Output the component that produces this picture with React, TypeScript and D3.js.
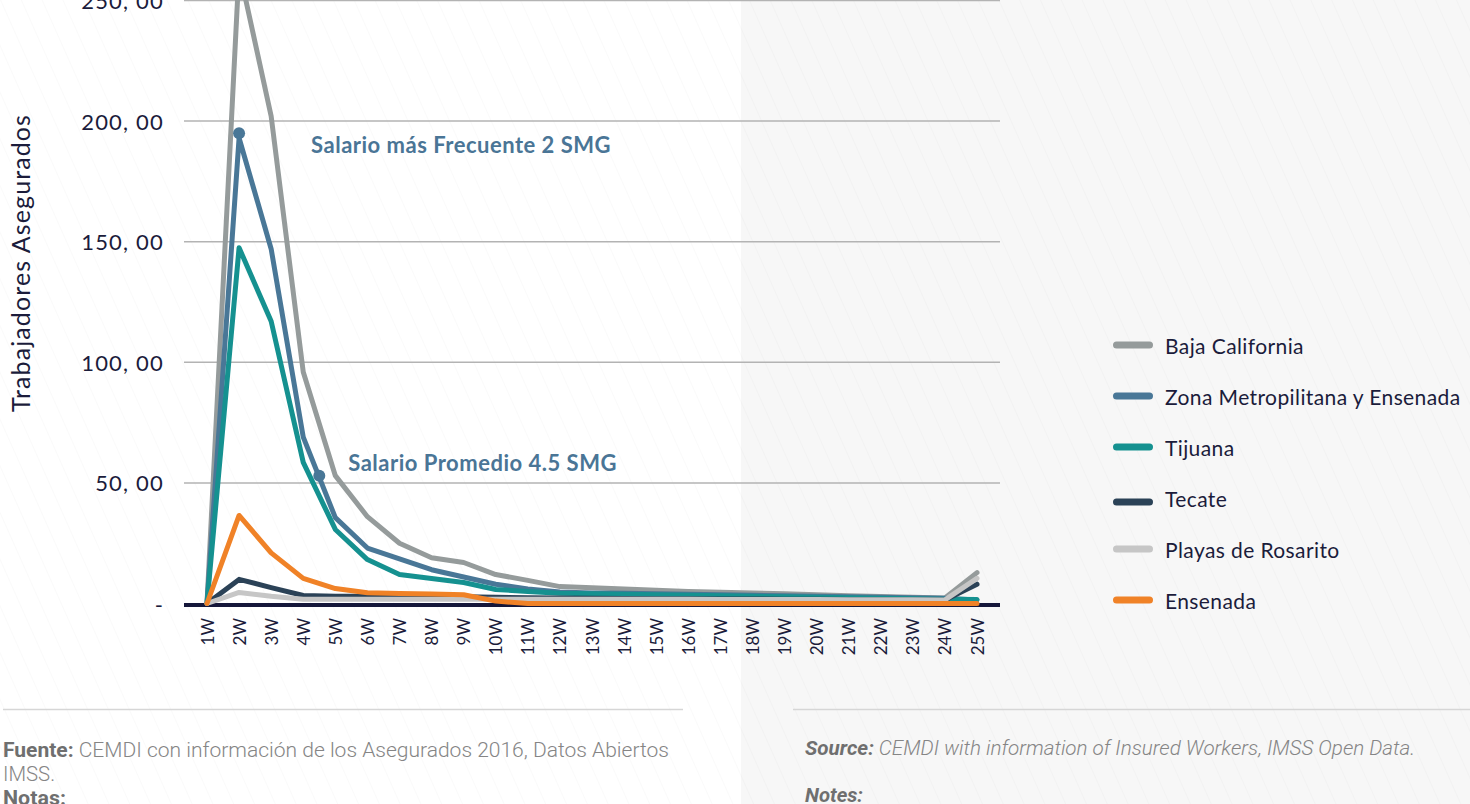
import { useEffect, useRef } from 'react';
import * as d3 from 'd3';

// Semanas de salario (W = veces salario mínimo)
const WEEKS = [
  '1W', '2W', '3W', '4W', '5W', '6W', '7W', '8W', '9W', '10W', '11W', '12W', '13W',
  '14W', '15W', '16W', '17W', '18W', '19W', '20W', '21W', '22W', '23W', '24W', '25W',
];

const BAJA_CALIFORNIA = [0, 263, 202, 96, 53, 36, 25, 19, 17, 12, 9.6, 7, 6.5, 6, 5.5, 5, 4.7, 4.4, 4, 3.6, 3.2, 2.9, 2.6, 2.3, 12.8];
const ZONA_METRO = [0, 193, 147, 69, 35.6, 23, 18.5, 14, 11, 8, 6, 4.8, 4.4, 4.2, 4, 3.8, 3.6, 3.4, 3.2, 3, 2.8, 2.6, 2.4, 2.2, 1.5];
const TIJUANA = [0, 147.5, 117, 58.5, 30.7, 18.2, 12, 10.4, 8.7, 5.8, 5, 4.2, 4, 3.8, 3.6, 3.4, 3.2, 3, 2.8, 2.6, 2.4, 2.2, 2, 1.8, 1.7];
const TECATE = [0, 10, 6.6, 3.3, 3, 3, 3, 3, 2.8, 2.6, 2.4, 2.3, 2.2, 2.1, 2, 2, 1.9, 1.9, 1.8, 1.8, 1.7, 1.7, 1.6, 1.5, 8];
const PLAYAS = [0, 4.6, 3, 1.8, 1.8, 1.8, 1.8, 1.8, 1.8, 1.8, 1.8, 1.8, 1.8, 1.8, 1.8, 1.8, 1.7, 1.7, 1.7, 1.7, 1.6, 1.6, 1.6, 1.5, 10.4];
const ENSENADA = [0, 36.5, 21, 10.4, 6.2, 4.5, 4.1, 3.9, 3.6, 1, 0, 0, 0, 0, 0, 0, 0, 0, 0, 0, 0, 0, 0, 0, 0];

const SERIES_NAMES = [
  'Baja California',
  'Zona Metropilitana y Ensenada',
  'Tijuana',
  'Tecate',
  'Playas de Rosarito',
  'Ensenada',
];
const SERIES_VALUES = [BAJA_CALIFORNIA, ZONA_METRO, TIJUANA, TECATE, PLAYAS, ENSENADA];
const SERIES_COLORS = ['#959b9b', '#497797', '#159190', '#2b4257', '#c6c6c6', '#f08227'];

const Y_TICKS = [0, 50, 100, 150, 200, 250];
const Y_TICK_LABELS = ['-', '50, 00', '100, 00', '150, 00', '200, 00', '250, 00'];

// marcadores: posición en semanas (x) y trabajadores (y)
const ANNOTATION_X = [2, 4.5];
const ANNOTATION_Y = [195, 53];
const ANNOTATION_TEXT = ['Salario más Frecuente 2 SMG', 'Salario Promedio 4.5 SMG'];
const ANNOTATION_OFFSET = [
  [72, 11],
  [29, -13],
];

const WIDTH = 1470;
const HEIGHT = 804;
const INK = '#1b1c3b';
const FONT = 'Lato, "Noto Sans", sans-serif';

export default function App() {
  const svgRef = useRef<SVGSVGElement>(null);

  useEffect(() => {
    if (!svgRef.current) return;
    const svg = d3.select(svgRef.current);
    svg.selectAll('*').remove();

    // fondo con rayado diagonal muy tenue
    const defs = svg.append('defs');
    const pat = defs
      .append('pattern')
      .attr('id', 'hatch')
      .attr('patternUnits', 'userSpaceOnUse')
      .attr('width', 19)
      .attr('height', 19)
      .attr('patternTransform', 'rotate(-24)');
    pat.append('line').attr('x1', 0).attr('y1', 0).attr('x2', 0).attr('y2', 19)
      .attr('stroke', 'rgba(0,0,0,0.028)').attr('stroke-width', 1.2);

    svg.append('rect').attr('width', WIDTH).attr('height', HEIGHT).attr('fill', '#ffffff');
    svg.append('rect').attr('x', 741).attr('width', WIDTH - 741).attr('height', HEIGHT).attr('fill', '#f7f7f7');
    svg.append('rect').attr('width', WIDTH).attr('height', HEIGHT).attr('fill', 'url(#hatch)');

    const x = d3.scaleLinear().domain([1, WEEKS.length]).range([207, 977]);
    const y = d3.scaleLinear().domain([0, 250]).range([603.5, 0.5]);
    const gridX0 = 184;
    const gridX1 = 1000;

    // líneas de cuadrícula
    svg.append('g')
      .selectAll('line')
      .data(Y_TICKS.filter((t) => t > 0))
      .join('line')
      .attr('x1', gridX0)
      .attr('x2', gridX1)
      .attr('y1', (d) => y(d))
      .attr('y2', (d) => y(d))
      .attr('stroke', '#b3b3b3')
      .attr('stroke-width', 1.5);

    // etiquetas eje Y
    svg.append('g')
      .selectAll('text')
      .data(Y_TICKS)
      .join('text')
      .attr('x', 164)
      .attr('y', (d) => (d === 0 ? y(d) + 1 : y(d)))
      .attr('text-anchor', 'end')
      .attr('dominant-baseline', 'central')
      .attr('fill', INK)
      .style('font-family', FONT)
      .style('font-size', '22px')
      .style('letter-spacing', '1.2px')
      .text((_, i) => Y_TICK_LABELS[i]);

    svg.append('text')
      .attr('transform', `translate(30,263) rotate(-90)`)
      .attr('text-anchor', 'middle')
      .attr('fill', INK)
      .style('font-family', FONT)
      .style('font-size', '25px')
      .style('letter-spacing', '1.1px')
      .text('Trabajadores Asegurados');

    // eje cero
    svg.append('line')
      .attr('x1', gridX0)
      .attr('x2', gridX1)
      .attr('y1', 605)
      .attr('y2', 605)
      .attr('stroke', '#15173a')
      .attr('stroke-width', 4);

    // etiquetas eje X
    svg.append('g')
      .selectAll('text')
      .data(WEEKS)
      .join('text')
      .attr('transform', (_, i) => `translate(${x(i + 1)},618) rotate(-90)`)
      .attr('text-anchor', 'end')
      .attr('dominant-baseline', 'central')
      .attr('fill', INK)
      .style('font-family', FONT)
      .style('font-size', '17px')
      .text((d) => d);

    // series
    const line = d3
      .line<number>()
      .x((_, i) => x(i + 1))
      .y((d) => y(d));

    svg.append('g')
      .selectAll('path')
      .data(SERIES_VALUES)
      .join('path')
      .attr('d', (d) => line(d))
      .attr('fill', 'none')
      .attr('stroke', (_, i) => SERIES_COLORS[i])
      .attr('stroke-width', 5)
      .attr('stroke-linejoin', 'round')
      .attr('stroke-linecap', 'round');

    // anotaciones
    ANNOTATION_X.forEach((ax, i) => {
      const px = x(ax);
      const py = y(ANNOTATION_Y[i]);
      svg.append('circle').attr('cx', px).attr('cy', py).attr('r', 6).attr('fill', '#497797');
      svg.append('text')
        .attr('x', px + ANNOTATION_OFFSET[i][0])
        .attr('y', py + ANNOTATION_OFFSET[i][1])
        .attr('dominant-baseline', 'central')
        .attr('fill', '#4a7596')
        .style('font-family', FONT)
        .style('font-weight', 700)
        .style('font-size', '22px')
        .style('letter-spacing', '0.5px')
        .text(ANNOTATION_TEXT[i]);
    });

    // leyenda
    const legend = svg.append('g').attr('transform', 'translate(1113,345)');
    const rows = legend
      .selectAll('g')
      .data(SERIES_NAMES)
      .join('g')
      .attr('transform', (_, i) => `translate(0,${i * 51})`);
    rows.append('line')
      .attr('x1', 3.5)
      .attr('x2', 36.5)
      .attr('y1', (_, i) => (i === 3 ? 4 : 0))
      .attr('y2', (_, i) => (i === 3 ? 4 : 0))
      .attr('stroke', (_, i) => SERIES_COLORS[i])
      .attr('stroke-width', 7)
      .attr('stroke-linecap', 'round');
    rows.append('text')
      .attr('x', 52)
      .attr('y', 0)
      .attr('dominant-baseline', 'central')
      .attr('fill', INK)
      .style('font-family', FONT)
      .style('font-size', '21px')
      .style('letter-spacing', '0.4px')
      .text((d) => d);

    // pie: separadores y fuentes
    svg.append('line').attr('x1', 3).attr('x2', 683).attr('y1', 709.5).attr('y2', 709.5)
      .attr('stroke', '#d6d6d6').attr('stroke-width', 1.5);
    svg.append('line').attr('x1', 793).attr('x2', WIDTH).attr('y1', 709.5).attr('y2', 709.5)
      .attr('stroke', '#d6d6d6').attr('stroke-width', 1.5);

    const foot = (xPos: number, yPos: number, bold: string, rest: string, italic: boolean, len?: number) => {
      const t = svg.append('text')
        .attr('x', xPos)
        .attr('y', yPos)
        .style('font-family', 'Roboto, sans-serif')
        .style('font-size', '20px')
        .style('font-style', italic ? 'italic' : 'normal');
      if (len) t.attr('textLength', len).attr('lengthAdjust', 'spacingAndGlyphs');
      t.append('tspan').attr('fill', '#6f6f6f').style('font-weight', 700).text(bold);
      if (rest) t.append('tspan').attr('fill', '#858585').style('font-weight', 300).text(rest);
    };
    foot(3, 757, 'Fuente:', ' CEMDI con información de los Asegurados 2016, Datos Abiertos', false, 666);
    svg.append('text').attr('x', 3).attr('y', 781).attr('fill', '#858585')
      .style('font-family', 'Roboto, sans-serif').style('font-size', '20px').style('font-weight', 300)
      .attr('textLength', 52).attr('lengthAdjust', 'spacingAndGlyphs').text('IMSS.');
    foot(3, 805, 'Notas:', '', false, 63);
    foot(805, 755, 'Source:', ' CEMDI with information of Insured Workers, IMSS Open Data.', true, 610);
    foot(805, 802, 'Notes:', '', true, 58);
  }, []);

  return (
    <svg
      ref={svgRef}
      width={WIDTH}
      height={HEIGHT}
      style={{ position: 'absolute', left: 0, top: 0, display: 'block' }}
    />
  );
}
